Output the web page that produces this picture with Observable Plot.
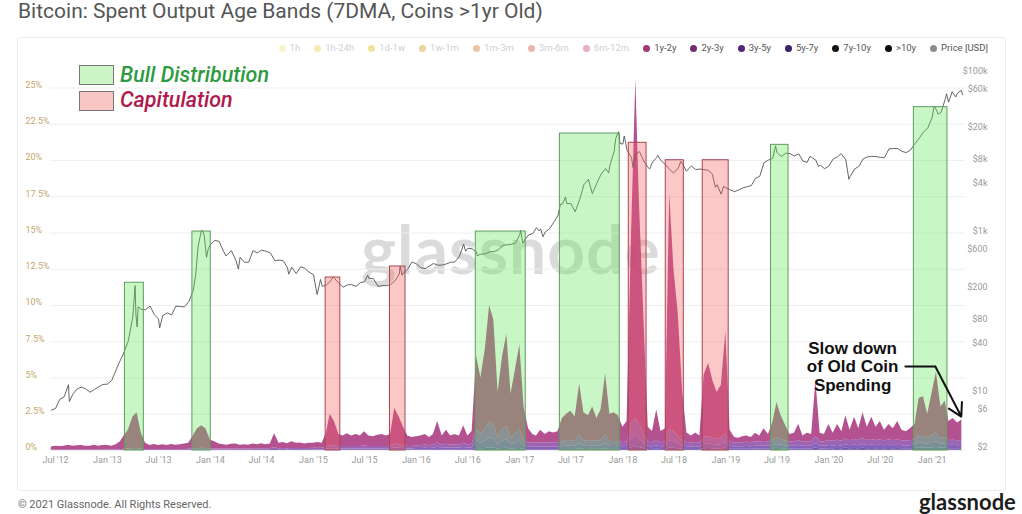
<!DOCTYPE html>
<html>
<head>
<meta charset="utf-8">
<script src="https://cdn.jsdelivr.net/npm/d3@7"></script>
<script src="https://cdn.jsdelivr.net/npm/@observablehq/plot@0.6"></script>
<style>
html,body{margin:0;padding:0;background:#fff;width:1022px;height:514px;overflow:hidden;font-family:Roboto,"Noto Sans",sans-serif;}
#page{position:relative;width:1022px;height:514px;overflow:hidden;}
#title{position:absolute;left:18px;top:0px;font-size:21px;line-height:22px;color:#555;white-space:nowrap;}
#card{position:absolute;left:17px;top:37px;width:987px;height:452px;border:1px solid #ebebeb;border-radius:3px;}
#wm{position:absolute;left:0;width:1022px;top:216px;text-align:center;font-family:Lato,sans-serif;font-weight:700;font-size:66px;line-height:66px;color:rgba(0,0,0,0.14);letter-spacing:1px;}
#chart{position:absolute;left:0;top:55px;}
#legend{position:absolute;top:42px;right:34px;display:flex;gap:14px;align-items:center;font-size:9.5px;line-height:12px;white-space:nowrap;}
#legend span{display:inline-flex;align-items:center;}
#legend i{display:inline-block;width:7px;height:7px;border-radius:50%;margin-right:4px;}
.sw{position:absolute;width:33px;height:18px;border:1px solid #777;}
.kt{position:absolute;font-family:Roboto,sans-serif;font-style:italic;font-weight:500;font-size:21.5px;line-height:20px;white-space:nowrap;}
#footer{position:absolute;left:18px;top:498px;font-size:11px;line-height:13px;color:#666;white-space:nowrap;}
#logo{position:absolute;left:919px;top:491px;font-family:Lato,sans-serif;font-weight:700;font-size:22px;line-height:22px;color:#1d1d1d;}
</style>
</head>
<body>
<div id="page">
  <div id="title">Bitcoin: Spent Output Age Bands (7DMA, Coins &gt;1yr Old)</div>
  <div id="card"></div>
  <div id="wm">glassnode</div>
  <div id="chart"></div>
  <div id="legend"></div>
  <div class="sw" style="left:79px;top:65px;background:#cbf5c4"></div>
  <div class="kt" style="left:120px;top:65px;color:#2e9b3f">Bull Distribution</div>
  <div class="sw" style="left:79px;top:91px;background:#f9c6c6"></div>
  <div class="kt" style="left:120px;top:90px;color:#b2184b">Capitulation</div>
  <div id="footer">© 2021 Glassnode. All Rights Reserved.</div>
  <div id="logo">glassnode</div>
</div>
<script>
// ---------------- DATA ----------------
const legendNames = ["1h","1h-24h","1d-1w","1w-1m","1m-3m","3m-6m","6m-12m","1y-2y","2y-3y","3y-5y","5y-7y","7y-10y",">10y","Price [USD]"];
const legendActive = [false,false,false,false,false,false,false,true,true,true,true,true,true,true];
const legendDots = ["#f4efa8","#efe07c","#e8cf60","#dcb95a","#dca068","#e08576","#d97a93","#9d3c72","#742d73","#57267a","#3a2168","#161616","#0b0b0b","#8c8c8c"];

const bandNames = ["1y-2y","2y-3y","3y-5y","5y-7y","7y-10y",">10y"];
const bandFill = ["#a8347e","#8e4aa8","#7248b0","#5a3ea0","#3a2a70","#1a1430"];
const bandStart = ["2012-06-16","2012-06-16","2012-06-16","2014-01-01","2016-01-01","2019-01-01"];
// semi-monthly samples (1st and 16th), values in % of spent outputs
const v1y2y = [
 .22,.27,.24,.26,.32,.27,.28,.31,.26,.26,.32,.26,.31,
 .30,.25,.35,.54,.92,1.3,2.17,2.47,1.12,.43,.28,.35,.28,.33,.28,.35,.29,.33,.38,.42,.89,1.37,1.55,1.37,
 .59,.5,.35,.3,.26,.32,.33,.26,.29,.26,.33,.29,.34,.28,.33,.97,.38,.42,.34,.46,.36,.38,.31,.36,
 .34,.39,.34,.97,2.18,1.68,.82,.72,.87,.72,.82,.72,.99,.72,.67,.77,.82,.72,.82,2.41,1.9,1.27,.72,.62,
 .62,.67,.73,.57,.73,1.48,.63,.98,.63,.72,.62,1.2,.62,.88,5.06,3.88,5.56,8.02,7.23,3.1,5.06,6.35,3.0,4.38,
 5.86,2.28,.98,.59,.49,.86,.59,.76,.66,.76,1.58,1.81,2.01,1.68,3.53,1.91,1.78,2.3,1.58,2.1,4.23,1.88,1.98,1.78,
 1.05,1.43,13.21,23.35,15.21,8.37,1.03,.75,2.14,.75,.93,16.22,11.2,8.53,3.34,.65,.48,.65,.48,4.29,5.05,3.94,3.24,3.66,
 7.04,.83,.36,.31,.41,.43,.36,.6,.41,.87,.5,1.21,2.43,1.64,1.04,.51,.61,1.11,.41,.61,.51,3.84,.61,.51,
 1.1,.56,1.1,.66,1.6,.73,1.55,.81,1.79,.91,1.55,.91,1.28,.73,1.08,.81,1.28,.73,.65,.81,1.07,2.57,2.67,1.67,
 2.97,4.19,2.17,2.5,1.31,1.49,1.23,1.41
];
const v2y3y = [
 .02,.02,.03,.03,.03,.02,.03,.03,.03,.03,.03,.03,.03,
 .04,.04,.04,.05,.06,.08,.1,.1,.06,.05,.05,.05,.05,.05,.05,.05,.05,.05,.05,.06,.08,.1,.12,.1,
 .08,.07,.07,.07,.07,.07,.08,.07,.07,.07,.08,.07,.08,.08,.08,.12,.08,.09,.08,.09,.09,.09,.09,.09,
 .1,.1,.1,.15,.2,.2,.18,.18,.18,.18,.18,.18,.2,.18,.18,.18,.18,.18,.18,.3,.25,.2,.18,.18,
 .2,.2,.22,.2,.22,.3,.22,.25,.22,.22,.22,.3,.22,.25,.8,.6,.8,1.1,1,.5,.8,.9,.5,.6,
 .8,.4,.28,.28,.28,.3,.28,.3,.3,.3,.35,.4,.4,.35,.6,.4,.35,.4,.35,.4,.6,.35,.35,.35,
 .3,.3,1,1.2,1,.6,.3,.3,.35,.3,.3,.8,.7,.5,.35,.3,.28,.3,.28,.5,.5,.45,.4,.45,
 .6,.3,.28,.28,.28,.3,.28,.3,.3,.32,.3,.35,.45,.4,.35,.3,.3,.35,.3,.3,.3,.5,.3,.3,
 .35,.32,.35,.32,.4,.34,.38,.35,.4,.35,.38,.35,.36,.34,.36,.35,.36,.34,.33,.35,.36,.5,.5,.4,
 .5,.6,.4,.45,.35,.36,.34,.35
];
const v3y5y = [
 .01,.01,.01,.01,.01,.01,.01,.01,.01,.01,.01,.01,.01,
 .01,.01,.01,.01,.02,.02,.03,.03,.02,.02,.02,.02,.02,.02,.02,.02,.02,.02,.02,.02,.03,.03,.03,.03,
 .03,.03,.03,.03,.03,.03,.04,.03,.04,.03,.04,.04,.04,.04,.04,.06,.04,.04,.04,.05,.05,.05,.05,.05,
 .05,.05,.05,.07,.1,.1,.08,.08,.08,.08,.08,.08,.09,.08,.08,.08,.08,.08,.08,.15,.12,.1,.08,.08,
 .1,.1,.12,.1,.12,.18,.12,.14,.12,.13,.13,.16,.13,.14,.5,.4,.5,.7,.6,.3,.5,.6,.3,.4,
 .5,.25,.18,.17,.17,.18,.17,.18,.18,.18,.2,.22,.22,.2,.35,.22,.2,.22,.2,.22,.35,.2,.2,.2,
 .18,.2,.6,.8,.6,.4,.2,.18,.22,.18,.2,.5,.45,.35,.22,.18,.17,.18,.17,.3,.32,.3,.26,.28,
 .4,.18,.17,.17,.17,.18,.17,.19,.18,.2,.19,.22,.28,.24,.2,.18,.18,.22,.18,.18,.18,.3,.18,.18,
 .22,.2,.22,.2,.25,.21,.24,.22,.26,.22,.24,.22,.23,.21,.23,.22,.23,.21,.2,.22,.24,.35,.35,.28,
 .35,.4,.28,.3,.22,.23,.21,.22
];
const v5y7y = [
 .005,.005,.005,.005,.005,.005,.005,.005,.005,.005,.005,.005,.005,.005,.005,.005,.005,.005,.005,.005,.005,.005,.005,.005,
 .01,.01,.01,.015,.02,.02,.02,.02,.02,.02,.02,.02,.02,.02,.02,.02,.02,.02,.02,.04,.03,.03,.02,.02,
 .03,.03,.03,.03,.03,.04,.03,.03,.03,.03,.03,.04,.03,.03,.12,.1,.12,.15,.14,.08,.12,.13,.08,.1,
 .12,.06,.05,.05,.05,.05,.05,.05,.05,.05,.06,.06,.06,.06,.1,.06,.06,.07,.06,.07,.1,.06,.06,.06,
 .06,.06,.15,.2,.15,.1,.06,.06,.07,.06,.06,.14,.12,.1,.07,.06,.06,.06,.06,.09,.1,.09,.08,.09,
 .12,.07,.07,.07,.07,.07,.07,.08,.08,.08,.08,.09,.1,.09,.08,.08,.08,.09,.08,.08,.08,.12,.08,.08,
 .09,.08,.09,.08,.1,.08,.09,.08,.1,.08,.09,.08,.09,.08,.09,.08,.09,.08,.08,.08,.09,.12,.12,.1,
 .12,.14,.1,.1,.08,.08,.08,.08
];
const v7y10y = [
 .005,.005,.005,.005,.005,.005,.005,.005,.005,.005,.005,.005,.005,.005,.02,.02,.02,.03,.03,.015,.02,.02,.015,.015,
 .02,.01,.01,.01,.01,.01,.01,.01,.01,.01,.012,.012,.012,.012,.02,.012,.012,.012,.012,.012,.02,.012,.012,.012,
 .015,.015,.04,.05,.04,.03,.015,.015,.02,.015,.015,.04,.03,.025,.02,.015,.015,.015,.015,.025,.03,.025,.02,.025,
 .035,.02,.02,.02,.02,.02,.02,.025,.025,.025,.025,.03,.035,.03,.03,.025,.025,.03,.025,.025,.025,.04,.025,.025,
 .03,.03,.035,.03,.04,.03,.035,.03,.04,.03,.035,.03,.035,.03,.035,.03,.035,.03,.03,.03,.035,.05,.05,.04,
 .05,.06,.04,.045,.035,.035,.035,.035
];
const v10y = [
 .003,.003,.003,.003,.003,.003,.003,.003,.003,.003,.003,.004,.005,.004,.003,.003,.003,.004,.003,.003,.003,.006,.003,.003,
 .006,.006,.006,.006,.008,.006,.006,.006,.008,.006,.006,.006,.006,.006,.006,.006,.006,.006,.006,.006,.006,.01,.01,.008,
 .01,.012,.01,.01,.01,.01,.01,.01
];

const priceSeries = [
["2012-06-16",6.4],["2012-07-01",6.7],["2012-07-16",8.7],["2012-08-01",9.4],["2012-08-16",13.3],["2012-08-19",8.2],["2012-09-01",10.2],["2012-09-16",11.8],["2012-10-01",12.4],["2012-10-16",11.8],["2012-11-01",10.7],["2012-11-16",11.6],["2012-12-01",12.5],["2012-12-16",13.4],
["2013-01-01",13.5],["2013-01-16",15],["2013-02-01",20.4],["2013-02-16",27],["2013-03-01",34],["2013-03-16",47],["2013-04-01",93],["2013-04-09",230],["2013-04-12",100],["2013-04-16",70],["2013-04-20",125],["2013-05-01",116],["2013-05-16",115],["2013-06-01",128],["2013-06-16",100],["2013-07-01",88],["2013-07-05",68],["2013-07-16",97],["2013-08-01",105],["2013-08-16",99],["2013-09-01",128],["2013-09-16",126],["2013-10-01",125],["2013-10-16",145],["2013-11-01",200],["2013-11-10",320],["2013-11-18",700],["2013-11-30",1130],["2013-12-05",1100],["2013-12-10",970],["2013-12-18",520],["2013-12-24",660],
["2014-01-01",750],["2014-01-16",850],["2014-02-01",820],["2014-02-16",620],["2014-02-25",540],["2014-03-01",560],["2014-03-16",630],["2014-04-01",480],["2014-04-10",370],["2014-04-16",520],["2014-05-01",450],["2014-05-16",450],["2014-06-01",630],["2014-06-16",590],["2014-07-01",640],["2014-07-16",620],["2014-08-01",590],["2014-08-18",470],["2014-09-01",480],["2014-09-16",470],["2014-10-01",385],["2014-10-05",320],["2014-10-16",390],["2014-11-01",325],["2014-11-16",395],["2014-12-01",380],["2014-12-16",340],
["2015-01-01",315],["2015-01-14",178],["2015-01-26",275],["2015-02-01",225],["2015-02-16",235],["2015-03-01",260],["2015-03-12",295],["2015-03-16",285],["2015-04-01",245],["2015-04-16",220],["2015-05-01",235],["2015-05-16",237],["2015-06-01",225],["2015-06-16",250],["2015-07-01",258],["2015-07-12",310],["2015-07-16",285],["2015-08-01",282],["2015-08-18",225],["2015-09-01",230],["2015-09-16",230],["2015-10-01",237],["2015-10-16",263],["2015-11-01",320],["2015-11-04",400],["2015-11-11",310],["2015-11-16",330],["2015-12-01",370],["2015-12-16",455],
["2016-01-01",430],["2016-01-16",385],["2016-02-01",375],["2016-02-16",405],["2016-03-01",435],["2016-03-16",415],["2016-04-01",415],["2016-04-16",430],["2016-05-01",450],["2016-05-16",455],["2016-06-01",535],["2016-06-16",760],["2016-06-23",620],["2016-07-01",675],["2016-07-16",665],["2016-08-01",605],["2016-08-03",545],["2016-08-16",570],["2016-09-01",575],["2016-09-16",608],["2016-10-01",615],["2016-10-16",640],["2016-11-01",730],["2016-11-16",745],["2016-12-01",755],["2016-12-16",780],
["2017-01-01",1000],["2017-01-04",1130],["2017-01-11",780],["2017-01-16",830],["2017-02-01",990],["2017-02-16",1030],["2017-03-01",1220],["2017-03-10",1110],["2017-03-16",1170],["2017-03-24",940],["2017-04-01",1080],["2017-04-16",1180],["2017-05-01",1420],["2017-05-16",1720],["2017-05-25",2400],["2017-06-01",2400],["2017-06-12",2950],["2017-06-16",2450],["2017-07-01",2430],["2017-07-16",1930],["2017-08-01",2730],["2017-08-16",4200],["2017-09-01",4900],["2017-09-15",3250],["2017-10-01",4400],["2017-10-16",5700],["2017-11-01",6700],["2017-11-12",5900],["2017-11-16",7300],["2017-12-01",10900],["2017-12-07",16000],["2017-12-17",19300],["2017-12-22",13800],
["2018-01-01",13500],["2018-01-06",17100],["2018-01-16",11300],["2018-02-01",9100],["2018-02-06",6900],["2018-02-16",10200],["2018-03-01",10900],["2018-03-16",8300],["2018-04-01",6850],["2018-04-06",6600],["2018-04-16",8050],["2018-05-01",9200],["2018-05-05",9800],["2018-05-16",8400],["2018-06-01",7500],["2018-06-16",6500],["2018-06-29",5900],["2018-07-16",6700],["2018-07-25",8200],["2018-08-01",7600],["2018-08-14",6200],["2018-09-01",7200],["2018-09-16",6500],["2018-10-01",6600],["2018-10-16",6480],["2018-11-01",6350],["2018-11-14",5700],["2018-11-25",3900],["2018-12-01",4200],["2018-12-15",3200],["2018-12-24",4000],
["2019-01-01",3850],["2019-01-16",3620],["2019-02-01",3440],["2019-02-16",3620],["2019-03-01",3820],["2019-03-16",3950],["2019-04-01",4100],["2019-04-16",5050],["2019-05-01",5350],["2019-05-16",7900],["2019-06-01",8550],["2019-06-16",8950],["2019-06-26",12900],["2019-07-01",10600],["2019-07-16",9450],["2019-08-01",10400],["2019-08-16",10300],["2019-09-01",9600],["2019-09-16",10250],["2019-10-01",8300],["2019-10-16",8000],["2019-10-26",9500],["2019-11-01",9200],["2019-11-16",8500],["2019-11-25",7050],["2019-12-01",7400],["2019-12-17",6650],
["2020-01-01",7200],["2020-01-16",8800],["2020-02-01",9400],["2020-02-13",10300],["2020-03-01",8600],["2020-03-12",4900],["2020-03-16",5300],["2020-04-01",6600],["2020-04-16",7100],["2020-05-01",8800],["2020-05-16",9350],["2020-06-01",9500],["2020-06-16",9450],["2020-07-01",9230],["2020-07-16",9150],["2020-08-01",11800],["2020-08-16",11900],["2020-09-01",11900],["2020-09-16",10950],["2020-10-01",10600],["2020-10-16",11350],["2020-11-01",13750],["2020-11-16",16000],["2020-12-01",19200],["2020-12-16",21300],
["2021-01-01",29300],["2021-01-08",40500],["2021-01-16",36000],["2021-01-22",32000],["2021-02-01",33500],["2021-02-16",49000],["2021-02-21",57500],["2021-02-28",45200],["2021-03-13",61200],["2021-03-25",52300],["2021-04-01",58800],["2021-04-14",63500],["2021-04-19",56000]
];

// annotation boxes
const boxKind  = ["bull","bull","cap","cap","bull","bull","cap","cap","cap","bull","bull"];
const boxStart = ["2013-03-04","2013-10-29","2015-02-13","2015-09-29","2016-07-29","2017-05-23","2018-01-22","2018-06-02","2018-10-11","2019-06-10","2020-10-28"];
const boxEnd   = ["2013-05-10","2014-01-02","2015-04-06","2015-11-23","2017-01-22","2017-12-21","2018-03-26","2018-08-05","2019-01-11","2019-08-11","2021-02-24"];
const boxTop   = [11.57,15.1,11.93,12.69,15.1,21.86,21.22,20.02,20.02,21.08,23.68];

// axes
const pctTicks = [0,2.5,5,7.5,10,12.5,15,17.5,20,22.5,25];
const priceTicks = [100000,60000,20000,8000,4000,1000,600,200,80,40,10,6,2];
const priceTickLabels = ["$100k","$60k","$20k","$8k","$4k","$1k","$600","$200","$80","$40","$10","$6","$2"];
const xTickDates = ["2012-07-01","2013-01-01","2013-07-01","2014-01-01","2014-07-01","2015-01-01","2015-07-01","2016-01-01","2016-07-01","2017-01-01","2017-07-01","2018-01-01","2018-07-01","2019-01-01","2019-07-01","2020-01-01","2020-07-01","2021-01-01"];
const xTickLabels = ["Jul '12","Jan '13","Jul '13","Jan '14","Jul '14","Jan '15","Jul '15","Jan '16","Jul '16","Jan '17","Jul '17","Jan '18","Jul '18","Jan '19","Jul '19","Jan '20","Jul '20","Jan '21"];

// text annotation
const annoText = "Slow down\nof Old Coin\nSpending";
const annoTextAt = ["2020-03-25", 5.79];
const annoLine = [["2020-09-28",5.79],["2021-01-12",5.79]];
const annoArrow = [["2021-01-12",5.79],["2021-04-14",2.34]];

// ---------------- BUILD ----------------
const parse = d3.utcParse("%Y-%m-%d");
const gridStart = parse("2012-06-16"), gridEnd = parse("2021-04-16");
const grid = [];
for (let m = d3.utcMonth.floor(gridStart); m <= gridEnd; m = d3.utcMonth.offset(m, 1)) {
  for (const day of [1, 16]) {
    const d = new Date(Date.UTC(m.getUTCFullYear(), m.getUTCMonth(), day));
    if (d >= gridStart && d <= gridEnd) grid.push(d);
  }
}
const bandValues = [v1y2y, v2y3y, v3y5y, v5y7y, v7y10y, v10y];
const areaRows = [];
// push bottom band first (>10y) so the stack runs oldest at bottom, 1y-2y on top
for (let b = bandNames.length - 1; b >= 0; b--) {
  const s = parse(bandStart[b]);
  const i0 = grid.findIndex(d => +d === +s);
  bandValues[b].forEach((v, k) => {
    if (i0 + k < grid.length) areaRows.push({date: grid[i0 + k], band: bandNames[b], value: v});
  });
}
const priceRows = priceSeries.map(([d, p]) => ({date: parse(d), price: p}));
const pricePct = p => Math.log10(p / 2) * 80 / 14.5; // log price axis mapped onto % frame
const boxes = boxKind.map((k, i) => ({kind: k, start: parse(boxStart[i]), end: parse(boxEnd[i]), top: boxTop[i]}));
const xTicks = xTickDates.map((d, i) => ({date: parse(d), label: xTickLabels[i]}));
const pTicks = priceTicks.map((v, i) => ({v, label: priceTickLabels[i]}));

const SVG_TOP = 55;
const chart = Plot.plot({
  width: 1022, height: 420,
  marginLeft: 50, marginRight: 57, marginTop: 5, marginBottom: 25,
  style: {background: "transparent", fontFamily: "Roboto, sans-serif", fontSize: "9px", overflow: "visible"},
  x: {type: "utc", domain: [parse("2012-07-01"), parse("2021-01-01")], range: [55, 931.7], axis: null},
  y: {type: "linear", domain: [0, 25], range: [450 - SVG_TOP, 87.5 - SVG_TOP], axis: null},
  color: {domain: bandNames, range: bandFill},
  marks: [
    Plot.ruleY(pctTicks, {stroke: "#efefef", strokeWidth: 1}),
    Plot.areaY(areaRows, Plot.stackY({x: "date", y: "value", z: "band", fill: "band", fillOpacity: 0.86})),
    Plot.line(priceRows, {x: "date", y: d => pricePct(d.price), stroke: "#555", strokeWidth: 0.9}),
    Plot.rect(boxes.filter(d => d.kind === "bull"), {x1: "start", x2: "end", y1: 0, y2: "top", fill: "rgb(100,230,90)", fillOpacity: 0.35, stroke: "#5f9c5f", strokeWidth: 1}),
    Plot.rect(boxes.filter(d => d.kind === "cap"), {x1: "start", x2: "end", y1: 0, y2: "top", fill: "rgb(245,95,95)", fillOpacity: 0.35, stroke: "#a84658", strokeWidth: 1}),
    Plot.text(pctTicks, {y: d => d, text: d => `${d}%`, frameAnchor: "left", textAnchor: "start", dx: -25, dy: -3, fill: "#c6a56e", fontSize: 9}),
    Plot.text(pTicks, {y: d => pricePct(d.v), text: "label", frameAnchor: "right", textAnchor: "end", dx: 22, dy: -3, fill: "#999", fontSize: 9}),
    Plot.text(xTicks, {x: "date", text: "label", frameAnchor: "bottom", dy: 12, fill: "#999", fontSize: 9}),
    Plot.line(annoLine, {x: d => parse(d[0]), y: d => d[1], stroke: "#111", strokeWidth: 2}),
    Plot.arrow([annoArrow], {x1: d => parse(d[0][0]), y1: d => d[0][1], x2: d => parse(d[1][0]), y2: d => d[1][1], stroke: "#111", strokeWidth: 2, headLength: 11}),
    Plot.text([annoText], {x: () => parse(annoTextAt[0]), y: () => annoTextAt[1], text: d => d, fontFamily: "Liberation Sans, Arial, sans-serif", fontWeight: "bold", fontSize: 17, lineHeight: 1.09, fill: "#111", textAnchor: "middle"})
  ]
});
document.getElementById("chart").appendChild(chart);

// HTML series legend
const lg = document.getElementById("legend");
legendNames.forEach((n, i) => {
  const s = document.createElement("span");
  const dot = document.createElement("i");
  dot.style.background = legendDots[i];
  if (!legendActive[i]) dot.style.opacity = "0.6";
  s.appendChild(dot);
  s.appendChild(document.createTextNode(n));
  s.style.color = legendActive[i] ? "#555" : "#d0d0d0";
  lg.appendChild(s);
});
</script>
</body>
</html>
